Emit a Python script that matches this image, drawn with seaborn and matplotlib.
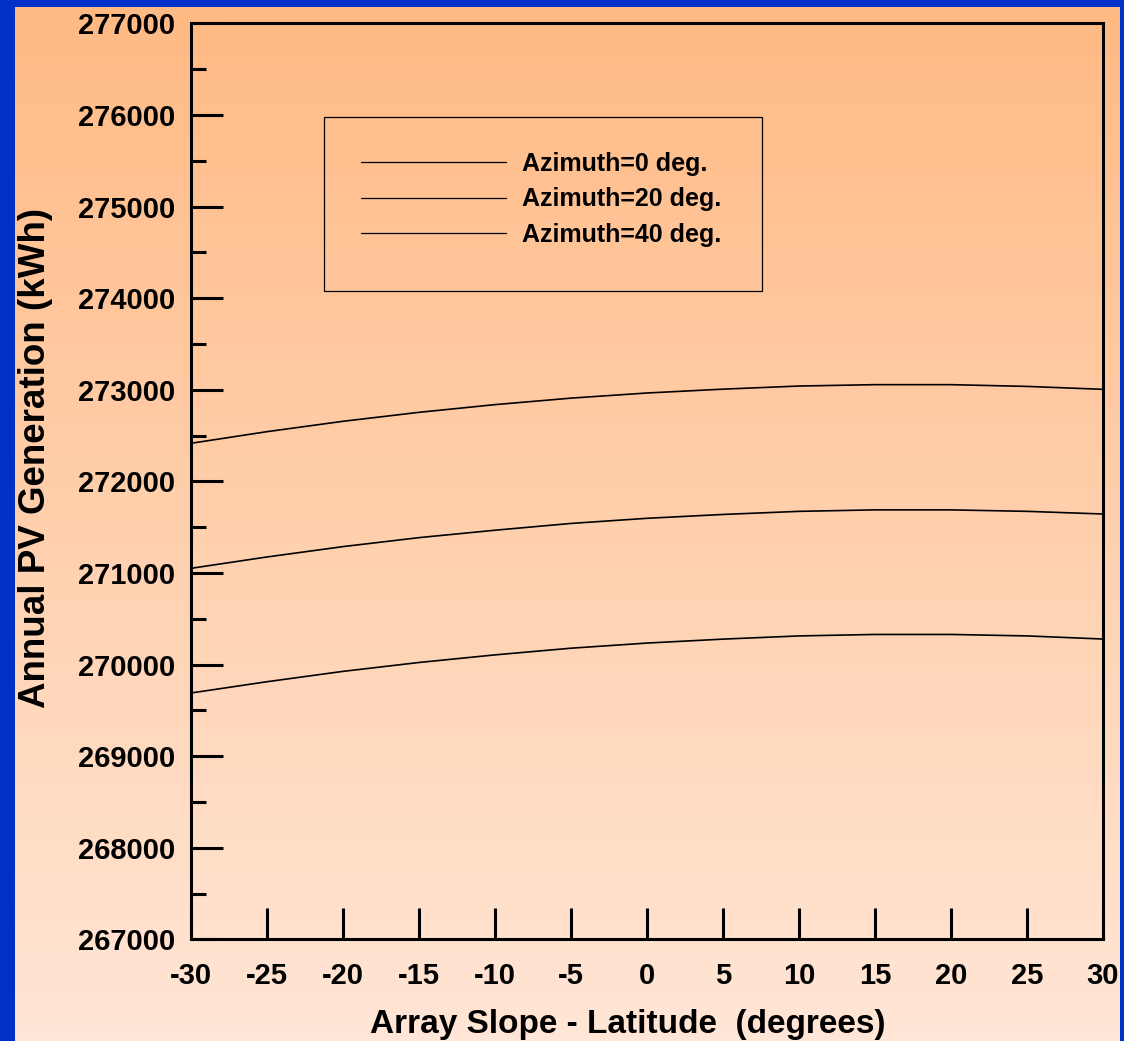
import numpy as np
import pandas as pd
import seaborn as sns
import matplotlib.pyplot as plt
from matplotlib.patches import Rectangle
from matplotlib.colors import LinearSegmentedColormap

# === Données ===
pente = [-30, -25, -20, -15, -10, -5, 0, 5, 10, 15, 20, 25, 30]
azimut_0 = [272415, 272542, 272655, 272753, 272837, 272908, 272964,
            273006, 273040, 273055, 273055, 273036, 273004]
azimut_20 = [271050, 271174, 271287, 271385, 271466, 271540, 271596,
             271638, 271672, 271688, 271688, 271672, 271643]
azimut_40 = [269689, 269812, 269925, 270022, 270105, 270178, 270234,
             270277, 270312, 270328, 270328, 270312, 270278]
series = ["Azimuth=0 deg.", "Azimuth=20 deg.", "Azimuth=40 deg."]
x_ticks = [-30, -25, -20, -15, -10, -5, 0, 5, 10, 15, 20, 25, 30]
y_ticks = [267000, 268000, 269000, 270000, 271000, 272000,
           273000, 274000, 275000, 276000, 277000]

df = pd.DataFrame({
    "pente": pente * 3,
    "kwh": azimut_0 + azimut_20 + azimut_40,
    "serie": [series[0]] * len(pente) + [series[1]] * len(pente) + [series[2]] * len(pente),
})

sns.set_style("ticks")
plt.rcParams["font.family"] = ["Liberation Sans", "DejaVu Sans"]
plt.rcParams["font.weight"] = "bold"
plt.rcParams["text.color"] = "black"
plt.rcParams["xtick.color"] = "black"
plt.rcParams["ytick.color"] = "black"

W, H = 1124, 1041
fig = plt.figure(figsize=(W / 100, H / 100), dpi=100, facecolor="#0030C8")

# === Fond dégradé ===
bg = fig.add_axes([15 / W, 0, 1105 / W, 1034 / H])
cmap = LinearSegmentedColormap.from_list("peche", ["#FFBA84", "#FFE6D6"])
bg.imshow(np.linspace(0, 1, 256).reshape(-1, 1), aspect="auto", cmap=cmap,
          extent=[0, 1, 0, 1], origin="upper")
bg.set_axis_off()

# === Axe principal ===
ax = fig.add_axes([191 / W, 1 - 939.3 / H, 912 / W, 916 / H])
ax.set_facecolor("none")
sns.lineplot(data=df, x="pente", y="kwh", hue="serie",
             palette=["black"] * 3, linewidth=1.2, ax=ax, legend=True)

ax.set_xlim(-30, 30)
ax.set_ylim(267000, 277000)
ax.set_xticks(x_ticks)
ax.set_xticklabels([str(v) for v in x_ticks])
ax.set_yticks(y_ticks)
ax.set_yticklabels([str(v) for v in y_ticks])
ax.set_yticks([v + 500 for v in y_ticks[:-1]], minor=True)
ax.set_xlabel("")
ax.set_ylabel("")

for s in ax.spines.values():
    s.set_visible(True)
    s.set_linewidth(2.2)
    s.set_color("black")

ax.tick_params(axis="x", which="major", direction="in", length=22, width=2.2,
               labelsize=21, pad=16, bottom=True, top=False, labelcolor="black")
ax.tick_params(axis="y", which="major", direction="in", length=23, width=2.2,
               labelsize=21, pad=11.5, left=True, right=False, labelcolor="black")
ax.tick_params(axis="y", which="minor", direction="in", length=11, width=2.2,
               left=True, right=False)
ax.tick_params(axis="x", which="minor", bottom=False, top=False)

# === Légende ===
ax.add_patch(Rectangle((0.1458, 0.708), 0.4803, 0.1897, transform=ax.transAxes,
                       fill=False, edgecolor="black", linewidth=0.9, zorder=3))
handles, labels = ax.get_legend_handles_labels()
for h in handles:
    h.set_linewidth(0.9)
leg = ax.legend(handles, labels, loc="center", bbox_to_anchor=(0.3843, 0.8077),
                frameon=False, fontsize=18, handlelength=5.8, handletextpad=0.64,
                labelspacing=0.46)
for t in leg.get_texts():
    t.set_fontweight("bold")
    t.set_color("black")

fig.text(628 / W, 1 - 1033 / H, "Array Slope - Latitude  (degrees)",
         ha="center", va="baseline", fontsize=24, fontweight="bold", color="black")
fig.text(36 / W, 1 - 457.5 / H, "Annual PV Generation (kWh)", rotation=90,
         ha="center", va="center", fontsize=26.5, fontweight="bold", color="black")

fig.savefig("out.png", dpi=100, facecolor=fig.get_facecolor())
